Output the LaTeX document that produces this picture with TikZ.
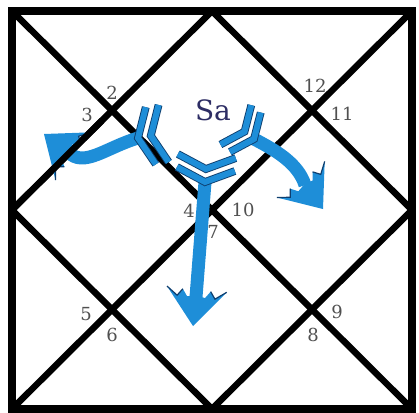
\documentclass[tikz,border=0pt]{standalone}
\usepackage{fontspec}
\newfontfamily\numfont{DejaVu Serif}
\definecolor{arrblue}{RGB}{30,142,216}
\definecolor{arrdark}{RGB}{14,62,110}
\definecolor{numgray}{RGB}{80,80,80}
\definecolor{sacol}{RGB}{45,45,100}
\tikzset{
  gridline/.style={line width=6.5pt},
  border/.style={line width=8pt},
  num/.style={inner sep=0pt, text=numgray, font=\numfont\fontsize{18}{18}\selectfont},
  satext/.style={inner sep=0pt, text=sacol, font=\numfont\fontsize{28}{28}\selectfont},
  shaft/.style={draw=arrblue, line width=13pt},
  feather/.style={draw=arrdark, double=arrblue, double distance=6pt, line width=0.9pt, line join=miter},
  jag/.style={draw=arrdark, line width=1.2pt},
  barbhead/.pic={
    \fill[arrblue] (0,0) -- (-37,30) -- (-29,19) -- (-36,14) -- (-29,9) -- (-31,0) -- (-29,-9) -- (-36,-14) -- (-29,-19) -- (-37,-30) -- cycle;
    \draw[jag] (-37,30) -- (-29,19) -- (-36,14);
    \draw[jag] (-36,-14) -- (-29,-19) -- (-37,-30);
  },
  fletching/.pic={
    \draw[feather] (-13,29) -- (0,0) -- (-13,-29);
    \draw[feather] (-26,29) -- (-13,0) -- (-26,-29);
  },
  fletchsmall/.pic={
    \draw[feather] (-11,25) -- (0,0) -- (-11,-25);
    \draw[feather] (-23,25) -- (-12,0) -- (-23,-25);
  }
}
\begin{document}
\begin{tikzpicture}[x=1pt,y=-1pt]
\useasboundingbox (0,0) rectangle (419,412);
% frame points
\coordinate (TL) at (12,11);
\coordinate (TR) at (412,11);
\coordinate (BL) at (12,409);
\coordinate (BR) at (412,409);
\coordinate (T) at (212,11);
\coordinate (B) at (212,409);
\coordinate (L) at (12,210);
\coordinate (R) at (412,210);
\coordinate (Lmid) at (102,120.5);
% grid
\draw[gridline] (TL) -- (BR);
\draw[gridline] (TR) -- (BL);
\draw[gridline] (T) -- (L);
\draw[gridline] (L) -- (B);
\draw[gridline] (B) -- (R);
\draw[gridline] (R) -- (T);
\draw[border] (TL) rectangle (BR);
% arrow tails, heads
\coordinate (lt) at (138,138);
\coordinate (lh) at (44,134);
\coordinate (lb) at (68,152);
\coordinate (rt) at (254,139);
\coordinate (rh) at (323,209);
\coordinate (rb) at (305,185);
\coordinate (dt) at (205,182);
\coordinate (dh) at (193,326);
\coordinate (db) at (196,297);
% left arrow
\draw[shaft] (lt) .. controls (105,148) and (84,168) .. (lb);
\pic[rotate=143] at (lh) {barbhead};
\pic[rotate=190] at (lt) {fletching};
\draw[gridline] (L) -- (Lmid);
% right arrow
\draw[shaft] (rt) .. controls (275,150) and (298,163) .. (rb);
\pic[rotate=-53] at (rh) {barbhead};
\pic[rotate=-38] at (rt) {fletchsmall};
% down arrow
\draw[shaft] (dt) -- (db);
\pic[rotate=-96] at (dh) {barbhead};
\pic[rotate=-94] at (dt) {fletching};
% labels
\node[satext] (sa) at (213,110) {Sa};
\node[num] (n2) at (112,93) {2};
\node[num] (n3) at (87,115) {3};
\node[num] (n12) at (315,86) {12};
\node[num] (n11) at (342,114) {11};
\node[num] (n4) at (189,211) {4};
\node[num] (n10) at (243,210) {10};
\node[num] (n7) at (213,232) {7};
\node[num] (n5) at (86,314) {5};
\node[num] (n6) at (112,335) {6};
\node[num] (n9) at (337,312) {9};
\node[num] (n8) at (313,335) {8};
\end{tikzpicture}
\end{document}
